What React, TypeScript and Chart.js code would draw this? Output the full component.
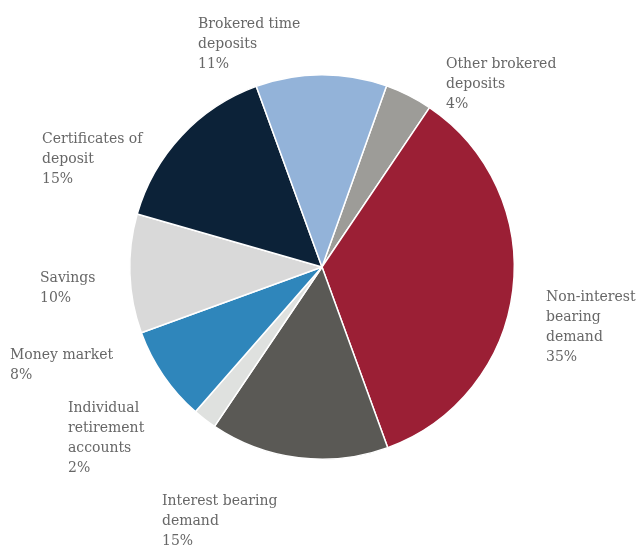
import React, { useEffect, useRef } from "react";
import { Chart, registerables } from "chart.js";

Chart.register(...registerables);

const categories = [
  "Other brokered deposits",
  "Non-interest bearing demand",
  "Interest bearing demand",
  "Individual retirement accounts",
  "Money market",
  "Savings",
  "Certificates of deposit",
  "Brokered time deposits",
];
const labelLines = [
  ["Other brokered", "deposits"],
  ["Non-interest", "bearing", "demand"],
  ["Interest bearing", "demand"],
  ["Individual", "retirement", "accounts"],
  ["Money market"],
  ["Savings"],
  ["Certificates of", "deposit"],
  ["Brokered time", "deposits"],
];
const shares = [4, 35, 15, 2, 8, 10, 15, 11];
const colors = ["#9d9c98", "#9b1f35", "#5a5955", "#dfe1df", "#2f86bb", "#d9d9d9", "#0c2238", "#93b3d9"];

// label placement relative to pie centre: [dx, first baseline dy]
const labelLayout: [number, number][] = [
  [124, -199],
  [224, 34],
  [-160, 238],
  [-254, 145],
  [-312, 92],
  [-282, 15],
  [-280, -124],
  [-124, -239],
];

const labelPlugin = {
  id: "outsideLabels",
  afterDatasetsDraw(chart: any) {
    const { ctx } = chart;
    const meta = chart.getDatasetMeta(0);
    ctx.save();
    ctx.font = "14px 'DejaVu Serif'";
    ctx.fillStyle = "#676767";
    ctx.textAlign = "left";
    ctx.textBaseline = "alphabetic";
    meta.data.forEach((arc: any, i: number) => {
      const { x, y } = arc.getProps(["x", "y"], true);
      const [dx, dy] = labelLayout[i];
      const lines = [...labelLines[i], `${shares[i]}%`];
      lines.forEach((t, j) => ctx.fillText(t, x + dx, y + dy + j * 20));
    });
    ctx.restore();
  },
};

export default function App() {
  const ref = useRef<HTMLCanvasElement>(null);
  useEffect(() => {
    document.body.style.margin = "0";
    const chart = new Chart(ref.current!, {
      type: "pie",
      data: {
        labels: categories,
        datasets: [
          {
            data: shares,
            backgroundColor: colors,
            borderColor: "#ffffff",
            borderWidth: 1.5,
          },
        ],
      },
      options: {
        animation: false,
        responsive: false,
        rotation: 19.6,
        layout: { padding: { left: 129, right: 125, top: 74, bottom: 90 } },
        plugins: { legend: { display: false }, tooltip: { enabled: false } },
      },
      plugins: [labelPlugin],
    });
    return () => chart.destroy();
  }, []);
  return (
    <div style={{ width: 640, height: 550 }}>
      <canvas ref={ref} width={640} height={550} />
    </div>
  );
}
